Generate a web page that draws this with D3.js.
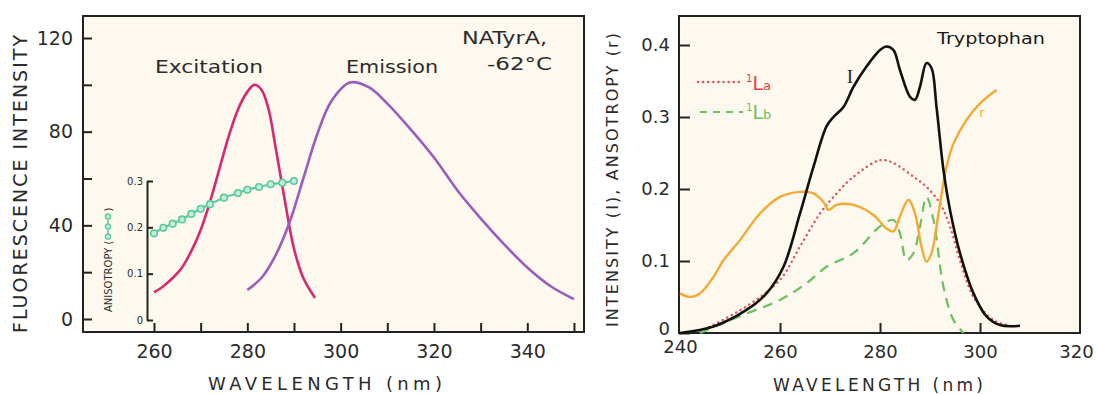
<!DOCTYPE html>
<html><head><meta charset="utf-8">
<script src="https://cdn.jsdelivr.net/npm/d3@7"></script>
<style>
body{margin:0;background:#fff}
svg{display:block}
text{font-family:"DejaVu Sans",sans-serif;fill:#2b2b2b}
</style></head><body>
<svg id="c" width="1096" height="394"></svg>
<script>
// ---- Left panel data (NATyrA, -62°C) ----
const excWl  = [260,262,264,266,268,270,272,274,276,278,280,281.5,283,284.5,286,288,290,292,294.5];
const excVal = [11.4,14,17.5,22,29,38,50,64,78,89.5,97,100,98,90,74,51,30,17.5,9];
const emWl   = [280,283,286,289,292,295,298,302,306,310,315,320,325,330,335,340,345,350];
const emVal  = [12.4,17.5,27,41,60,79,93,101,99,92,81,69,55,43,32,22,14,8.5];
const anisWl  = [260,262,264,266,268,270,272,275,278,280,282.5,285,287.5,290];
const anisVal = [0.187,0.199,0.208,0.217,0.229,0.240,0.250,0.264,0.274,0.281,0.287,0.293,0.296,0.300];
const leftYTicks = [0,20,40,60,80,100,120];
const leftXTicks = [260,270,280,290,300,310,320,330,340,350];
const anisTicks = [0,0.1,0.2,0.3];

// ---- Right panel data (Tryptophan) ----
const iWl  = [240,246.7,253.3,257.3,260.7,264,266.7,269.3,270.7,272.7,274.7,277.3,280,281.3,282.7,284,286,287,288,289.3,290.3,291.3,292.7,294,296,298.7,301.3,304,308];
const iVal = [0,0.009,0.032,0.055,0.092,0.166,0.231,0.287,0.300,0.314,0.342,0.370,0.393,0.398,0.393,0.365,0.328,0.324,0.342,0.375,0.368,0.314,0.226,0.171,0.111,0.055,0.023,0.011,0.010];
const laWl  = [244,253.3,260,264,268,270.7,274.7,280,282.7,286.7,289.3,292,294,296,298.7,302.7,306.7];
const laVal = [0.002,0.037,0.074,0.120,0.166,0.189,0.217,0.240,0.236,0.217,0.203,0.180,0.148,0.101,0.050,0.018,0.009];
const lbWl  = [244,253.3,260,265.3,269.3,274.7,280,282.7,284,285.3,286.7,288,289.3,290.7,292.7,294.7,296.7];
const lbVal = [0,0.027,0.046,0.069,0.092,0.111,0.148,0.157,0.138,0.101,0.111,0.148,0.189,0.157,0.064,0.018,0];
const rWl  = [240,242,244,246.7,248.7,252,256,260,264,266.7,268.7,269.7,271.3,274.7,278.7,281.3,282.7,284,285.7,287,288.3,289.3,290.3,291.7,293.3,294.7,297.3,300,303.3];
const rVal = [0.055,0.050,0.055,0.078,0.101,0.129,0.166,0.189,0.196,0.194,0.182,0.171,0.178,0.178,0.164,0.145,0.141,0.162,0.185,0.166,0.120,0.099,0.111,0.166,0.231,0.263,0.296,0.319,0.3375];
const rightYTicks = [0,0.1,0.2,0.3,0.4];
const rightXTicks = [240,260,280,300,320];

const svg = d3.select("#c");
const BG = "#fdf9ee", INK = "#222";

// ================= LEFT PANEL =================
const xL = d3.scaleLinear().domain([260,340]).range([154,527.3]);
const yL = d3.scaleLinear().domain([0,120]).range([319,38]);
const yA = d3.scaleLinear().domain([0,0.3]).range([320,181]);

svg.append("rect").attr("x",83).attr("y",16).attr("width",501).attr("height",316)
  .attr("fill",BG).attr("stroke",INK).attr("stroke-width",2);

const gLY = svg.append("g").attr("transform","translate(83,0)")
  .call(d3.axisLeft(yL).tickValues(leftYTicks).tickSize(-9).tickSizeOuter(0).tickPadding(10)
    .tickFormat(d => d%40===0 ? d : ""));
const gLX = svg.append("g").attr("transform","translate(0,332)")
  .call(d3.axisBottom(xL).tickValues(leftXTicks).tickSize(-9).tickSizeOuter(0).tickPadding(13)
    .tickFormat(d => ((d-260)%20===0 && d<=340) ? d : ""));
[gLY,gLX].forEach(g=>{
  g.select(".domain").remove();
  g.selectAll(".tick line").attr("stroke",INK).attr("stroke-width",2);
  g.selectAll("text").style("font-size","19px").attr("fill","#2b2b2b");
});

// inset anisotropy axis
const gA = svg.append("g").attr("transform","translate(147,0)")
  .call(d3.axisLeft(yA).tickValues(anisTicks).tickSize(-6).tickSizeOuter(0).tickPadding(4)
    .tickFormat(d => d===0 ? "0" : d.toFixed(1)));
gA.select(".domain").attr("stroke",INK).attr("stroke-width",2);
gA.selectAll(".tick line").attr("stroke",INK).attr("stroke-width",2);
gA.selectAll("text").style("font-size","10px");

// inset label
const aLab = svg.append("g").attr("transform","translate(112,312) rotate(-90)");
const aTxt = aLab.append("text").attr("x",0).attr("y",0).style("font-size","10px").text("ANISOTROPY (");
const aw = aTxt.node().getComputedTextLength();
aLab.append("line").attr("x1",aw+3).attr("x2",aw+25).attr("y1",-4).attr("y2",-4).attr("stroke","#5ec8a0").attr("stroke-width",1.5);
[aw+4,aw+14,aw+24].forEach(p=>aLab.append("circle").attr("cx",p).attr("cy",-4).attr("r",2.6).attr("fill","#bfeedd").attr("stroke","#5ec8a0").attr("stroke-width",1.3));
aLab.append("text").attr("x",aw+29).attr("y",0).style("font-size","10px").text(")");

const lineL = (xs,ys)=> d3.line().x((d,i)=>xL(xs[i])).y((d,i)=>yL(ys[i])).curve(d3.curveCatmullRom.alpha(0.5))(xs);
svg.append("path").attr("d",lineL(excWl,excVal)).attr("fill","none").attr("stroke","#d42a6e").attr("stroke-width",2.6);
svg.append("path").attr("d",lineL(emWl,emVal)).attr("fill","none").attr("stroke","#9a5cbf").attr("stroke-width",2.6);

const anisLine = d3.line().x((d,i)=>xL(anisWl[i])).y((d,i)=>yA(anisVal[i])).curve(d3.curveMonotoneX);
svg.append("path").attr("d",anisLine(anisWl)).attr("fill","none").attr("stroke","#5ec8a0").attr("stroke-width",2.2);
svg.selectAll("circle.an").data(anisWl).join("circle").attr("class","an")
  .attr("cx",d=>xL(d)).attr("cy",(d,i)=>yA(anisVal[i])).attr("r",3.3)
  .attr("fill","#bfeedd").attr("stroke","#5ec8a0").attr("stroke-width",1.6);

// left texts
svg.append("text").attr("x",155).attr("y",73).attr("textLength",108).attr("lengthAdjust","spacingAndGlyphs").style("font-size","18px").text("Excitation");
svg.append("text").attr("x",346).attr("y",73).attr("textLength",92).attr("lengthAdjust","spacingAndGlyphs").style("font-size","18px").text("Emission");
svg.append("text").attr("x",462).attr("y",44).attr("textLength",85).attr("lengthAdjust","spacingAndGlyphs").style("font-size","18px").text("NATyrA,");
svg.append("text").attr("x",487).attr("y",70).attr("textLength",65).attr("lengthAdjust","spacingAndGlyphs").style("font-size","18px").text("-62°C");
svg.append("text").attr("transform","translate(27,184) rotate(-90)").attr("text-anchor","middle")
  .attr("textLength",298).attr("lengthAdjust","spacing").style("font-size","19px").text("FLUORESCENCE INTENSITY");
svg.append("text").attr("x",325).attr("y",390).attr("text-anchor","middle")
  .attr("textLength",234).attr("lengthAdjust","spacing").style("font-size","18px").text("WAVELENGTH (nm)");

// ================= RIGHT PANEL =================
const xR = d3.scaleLinear().domain([240,320]).range([680,1080]);
const yR = d3.scaleLinear().domain([0,0.4]).range([333,45]);

svg.append("rect").attr("x",679).attr("y",16).attr("width",401).attr("height",317)
  .attr("fill",BG).attr("stroke",INK).attr("stroke-width",2);

const gRY = svg.append("g").attr("transform","translate(679,0)")
  .call(d3.axisLeft(yR).tickValues(rightYTicks).tickSize(-11).tickSizeOuter(0).tickPadding(9)
    .tickFormat(d => d===0 ? "0" : d.toFixed(1)));
const gRX = svg.append("g").attr("transform","translate(0,333)")
  .call(d3.axisBottom(xR).tickValues(rightXTicks).tickSize(-10).tickSizeOuter(0).tickPadding(12));
[gRY,gRX].forEach(g=>{
  g.select(".domain").remove();
  g.selectAll(".tick line").attr("stroke",INK).attr("stroke-width",2);
  g.selectAll("text").style("font-size","18px").attr("fill","#2b2b2b");
});
gRY.selectAll(".tick").filter(d=>d===0).select("text").attr("dy","0.1em");
gRX.selectAll(".tick").filter(d=>d===240||d===320).select("line").remove();
gRX.selectAll(".tick").filter(d=>d===240).select("text").attr("y",7);
gRX.selectAll(".tick").filter(d=>d===320).select("text").attr("x",-4);

const lineR = (xs,ys)=> d3.line().x((d,i)=>xR(xs[i])).y((d,i)=>yR(ys[i])).curve(d3.curveCatmullRom.alpha(0.5))(xs);
svg.append("path").attr("d",lineR(laWl,laVal)).attr("fill","none").attr("stroke","#e0505a").attr("stroke-width",2.4)
  .attr("stroke-dasharray","0.1,5").attr("stroke-linecap","round");
svg.append("path").attr("d",lineR(lbWl,lbVal)).attr("fill","none").attr("stroke","#6cc060").attr("stroke-width",2.2)
  .attr("stroke-dasharray","10,7");
svg.append("path").attr("d",lineR(rWl,rVal)).attr("fill","none").attr("stroke","#f2aa35").attr("stroke-width",2.4);
svg.append("path").attr("d",lineR(iWl,iVal)).attr("fill","none").attr("stroke","#111").attr("stroke-width",2.6);

// legend
svg.append("line").attr("x1",698).attr("x2",742).attr("y1",82).attr("y2",82).attr("stroke","#e0505a")
  .attr("stroke-width",2.4).attr("stroke-dasharray","0.1,5").attr("stroke-linecap","round");
svg.append("line").attr("x1",700).attr("x2",743).attr("y1",112).attr("y2",112).attr("stroke","#6cc060")
  .attr("stroke-width",2.2).attr("stroke-dasharray","7,6");
const leg1 = svg.append("text").attr("x",746).attr("y",90).style("fill","#e0404a");
leg1.append("tspan").style("font-size","10px").attr("dy",-8).text("1");
leg1.append("tspan").style("font-size","19px").attr("dy",8).text("L");
leg1.append("tspan").style("font-size","13px").text("a");
const leg2 = svg.append("text").attr("x",746).attr("y",119).style("fill","#6cc060");
leg2.append("tspan").style("font-size","10px").attr("dy",-8).text("1");
leg2.append("tspan").style("font-size","19px").attr("dy",8).text("L");
leg2.append("tspan").style("font-size","13px").text("b");

svg.append("text").attr("x",850).attr("y",83).attr("text-anchor","middle")
  .style("font-family","'Liberation Serif',serif").style("font-size","19px").text("I");
svg.append("text").attr("x",982).attr("y",117).attr("text-anchor","middle").style("fill","#f2aa35").style("font-size","13px").text("r");
svg.append("text").attr("x",937).attr("y",44).attr("textLength",108).attr("lengthAdjust","spacingAndGlyphs").style("font-size","16px").style("fill","#1a1a1a").text("Tryptophan");

svg.append("text").attr("transform","translate(618,180) rotate(-90)").attr("text-anchor","middle")
  .attr("textLength",294).attr("lengthAdjust","spacing").style("font-size","16px").text("INTENSITY (I), ANSOTROPY (r)");
svg.append("text").attr("x",878).attr("y",391).attr("text-anchor","middle")
  .attr("textLength",210).attr("lengthAdjust","spacing").style("font-size","17px").text("WAVELENGTH (nm)");
</script>
</body></html>
